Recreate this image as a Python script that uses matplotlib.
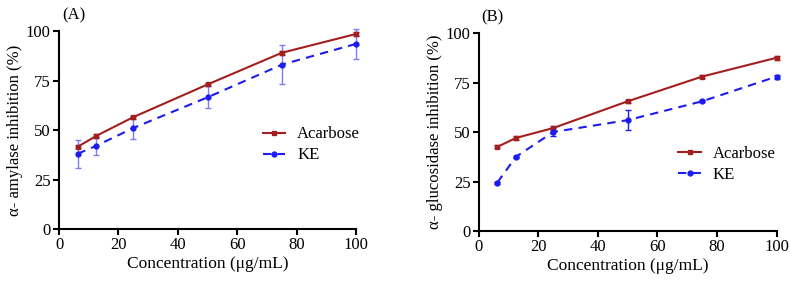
import matplotlib
matplotlib.use("Agg")
import matplotlib.pyplot as plt
from matplotlib.lines import Line2D

plt.rcParams['font.family'] = ['Liberation Serif', 'DejaVu Serif']

conc = [6.25, 12.5, 25, 50, 75, 100]

# panel A: alpha-amylase
acar_a = [41.5, 47.0, 56.5, 73.0, 89.0, 98.5]
acar_a_err = [0.8, 0.8, 0.8, 0.8, 1.0, 0.8]
ke_a = [38.0, 42.0, 51.0, 66.5, 83.0, 93.5]
ke_a_err = [7.0, 4.5, 5.5, 5.5, 10.0, 7.5]

# panel B: alpha-glucosidase
acar_b = [42.5, 47.0, 52.0, 65.5, 78.0, 87.5]
acar_b_err = [0.8, 0.8, 0.8, 0.8, 0.8, 1.0]
ke_b = [24.5, 37.5, 50.0, 56.0, 65.5, 78.0]
ke_b_err = [0.5, 0.5, 2.0, 5.0, 0.5, 1.0]

red = '#A31F1F'
blue = '#1C1CF0'
kes = (0, (4, 3))

fig = plt.figure(figsize=(7.9, 2.87), dpi=100)
axA = fig.add_axes([0.0747, 0.202, 0.376, 0.690])
axB = fig.add_axes([0.606, 0.195, 0.377, 0.690])

def panel(ax, acar, acar_err, ke, ke_err, ylabel, tag, ecol, leg_pos):
    ax.errorbar(conc, acar, yerr=acar_err, color=red, marker='s', ms=3.5,
                lw=1.5, capsize=2, elinewidth=1, clip_on=False)
    ax.errorbar(conc, ke, yerr=ke_err, color=blue, marker='o', ms=3.5,
                lw=1.5, ls=kes, capsize=2, elinewidth=1, ecolor=ecol,
                clip_on=False)
    ax.set_xlim(0, 100)
    ax.set_ylim(0, 100)
    ax.set_xticks([0, 20, 40, 60, 80, 100])
    ax.set_yticks([0, 25, 50, 75, 100])
    for s in ['top', 'right']:
        ax.spines[s].set_visible(False)
    for s in ['left', 'bottom']:
        ax.spines[s].set_linewidth(1.5)
    ax.tick_params(width=1.5, length=4, labelsize=12, pad=2)
    ax.set_xlabel('Concentration (μg/mL)', fontsize=12.5, labelpad=2)
    ax.set_ylabel(ylabel, fontsize=12, labelpad=2)
    ax.text(0.01, 1.04, tag, transform=ax.transAxes, fontsize=12, ha='left', va='bottom')
    handles = [Line2D([], [], color=red, marker='s', ms=3.5, lw=1.5),
               Line2D([], [], color=blue, marker='o', ms=3.5, lw=1.5, ls=kes)]
    ax.legend(handles, ['Acarbose', 'KE'], loc='center left', bbox_to_anchor=leg_pos,
              frameon=False, fontsize=12, handlelength=1.35, handletextpad=0.7,
              labelspacing=0.3)

panel(axA, acar_a, acar_a_err, ke_a, ke_a_err, 'α- amylase inhibition (%)', '(A)',
      '#7C7CF8', (0.636, 0.425))
panel(axB, acar_b, acar_b_err, ke_b, ke_b_err, 'α- glucosidase inhibition (%)', '(B)',
      blue, (0.62, 0.335))

fig.savefig('out.png', dpi=100)
